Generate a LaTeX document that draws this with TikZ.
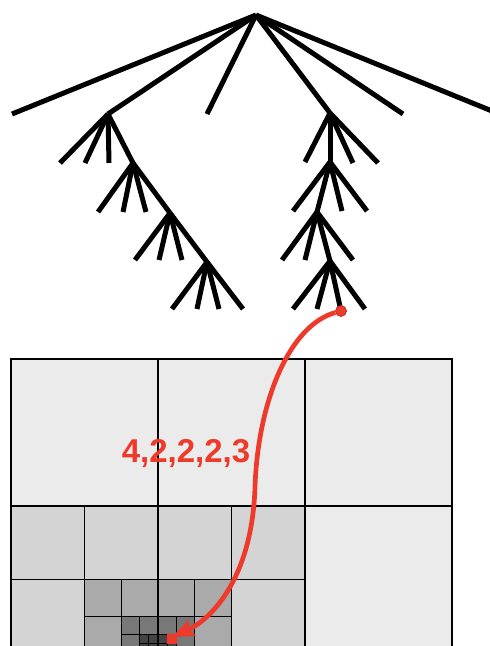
\documentclass[tikz,border=0pt]{standalone}
\usepackage{fontspec}
\setmainfont{Liberation Sans}
\usetikzlibrary{arrows.meta}
\definecolor{rd}{HTML}{EE3A2A}
\definecolor{gA}{HTML}{EBEBEB}
\definecolor{gB}{HTML}{D4D4D4}
\definecolor{gC}{HTML}{AAAAAA}
\definecolor{gD}{HTML}{787878}
\definecolor{gE}{HTML}{444444}
\begin{document}
\begin{tikzpicture}[x=1pt,y=-1pt,
  branch/.style={line width=5pt},
  cell/.style={draw=black,line width=1.1pt},
  pt/.style={inner sep=0pt}]
\useasboundingbox (0,0) rectangle (490,646);
\clip (0,0) rectangle (490,646);
% ---------- tree ----------
\coordinate (r) at (256,15);
\coordinate (a1) at (12,114);  \coordinate (b) at (108,114);
\coordinate (a3) at (207,114); \coordinate (f) at (330,113);
\coordinate (a5) at (403,114); \coordinate (a6) at (492,111);
\foreach \t in {a1,b,a3,f,a5,a6} \draw[branch] (r) -- (\t);
% left branch
\coordinate (c) at (133,163); \coordinate (d) at (170,213); \coordinate (e) at (207,262);
\coordinate (b1) at (60,163); \coordinate (b2) at (85,163); \coordinate (b3) at (109,163);
\coordinate (c1) at (98,212); \coordinate (c2) at (123,212); \coordinate (c3) at (146,212);
\coordinate (d1) at (135,260); \coordinate (d2) at (159,260); \coordinate (d3) at (182,260);
\coordinate (e1) at (172,309); \coordinate (e2) at (197,309); \coordinate (e3) at (219,309); \coordinate (e4) at (243,309);
\foreach \t in {b1,b2,b3,c} \draw[branch] (b) -- (\t);
\foreach \t in {c1,c2,c3,d} \draw[branch] (c) -- (\t);
\foreach \t in {d1,d2,d3,e} \draw[branch] (d) -- (\t);
\foreach \t in {e1,e2,e3,e4} \draw[branch] (e) -- (\t);
% right branch
\coordinate (g) at (330,162); \coordinate (h) at (317,212); \coordinate (i) at (330,261);
\coordinate (f1) at (305,162); \coordinate (f3) at (353,163); \coordinate (f4) at (378,163);
\coordinate (g1) at (293,211); \coordinate (g3) at (342,211); \coordinate (g4) at (367,211);
\coordinate (h1) at (282,260); \coordinate (h2) at (305,260); \coordinate (h4) at (353,260);
\coordinate (i1) at (293,309); \coordinate (i2) at (317,309); \coordinate (i3) at (341,311); \coordinate (i4) at (365,309);
\foreach \t in {f1,g,f3,f4} \draw[branch] (f) -- (\t);
\foreach \t in {g1,h,g3,g4} \draw[branch] (g) -- (\t);
\foreach \t in {h1,h2,i,h4} \draw[branch] (h) -- (\t);
\foreach \t in {i1,i2,i3,i4} \draw[branch] (i) -- (\t);
% ---------- grid ----------
\foreach \x in {11,158,305} \filldraw[cell,fill=gA] (\x,359) rectangle +(147,147);
\filldraw[cell,fill=gA] (305,506) rectangle +(147,147);
\foreach \x/\y/\s/\c in {11/506/73.5/gB, 84.5/579.5/36.75/gC, 121.25/616.25/18.375/gD, 139.625/634.625/9.1875/gE}{
  \foreach \i in {0,...,3}{
    \foreach \j in {0,1}{
      \filldraw[cell,fill=\c] ({\x+\i*\s},{\y+\j*\s}) rectangle +(\s,\s);
    }
  }
}
\filldraw[cell,fill=rd,draw=rd] (167.1875,634.625) rectangle +(9.1875,9.1875);
% ---------- label and path ----------
\node[text=rd,font=\bfseries\fontsize{33}{33}\selectfont,anchor=base] (lbl) at (186,462) {4,2,2,2,3};
\node[circle,fill=rd,draw=rd!75!black,line width=0.7pt,minimum size=11pt,inner sep=0pt] (dot) at (i3) {};
\coordinate (m) at (255,487);
\coordinate (tip) at (172,637);
\draw[rd,line width=4.7pt,-{Stealth[length=22pt,width=17pt,inset=4pt]}]
  (dot) .. controls (290,325) and (258,400) .. (m)
        .. controls (252,580) and (210,620) .. (tip);
\end{tikzpicture}
\end{document}
